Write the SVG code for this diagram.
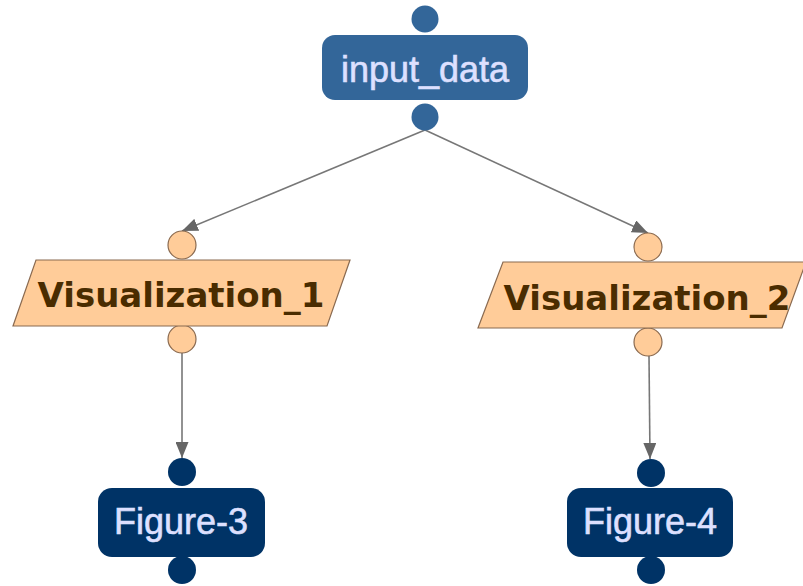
<svg xmlns="http://www.w3.org/2000/svg" width="803" height="586" viewBox="0 0 803 586">
  <defs>
    <marker id="arrow" viewBox="0 0 16 13" refX="16" refY="6.5" markerWidth="16" markerHeight="13" markerUnits="userSpaceOnUse" orient="auto">
      <path d="M0,0 L16,6.5 L0,13 Z" fill="#666666"/>
    </marker>
    <style>
      .edge { stroke: #777777; stroke-width: 1.6; fill: none; marker-end: url(#arrow); }
      .data { fill: #336699; }
      .fig { fill: #003366; }
      .proc { fill: #ffcc99; stroke: #8a6a50; stroke-width: 1.2; }
      .port { fill: #ffcc99; stroke: #8a6a50; stroke-width: 1.2; }
      .light { font-family: "Liberation Sans", Arial, sans-serif; font-size: 36px; fill: #dde0ff; stroke: #dde0ff; stroke-width: 0.6; text-anchor: middle; }
      .bold { font-family: "DejaVu Sans", Verdana, sans-serif; font-weight: bold; font-size: 34px; fill: #4a2c00; text-anchor: middle; }
    </style>
  </defs>

  <g id="connectors">
    <line class="edge" x1="425" y1="130" x2="182" y2="231"/>
    <line class="edge" x1="425" y1="130" x2="648" y2="233"/>
    <line class="edge" x1="182" y1="352" x2="182" y2="458"/>
    <line class="edge" x1="649" y1="356" x2="650" y2="459"/>
  </g>

  <g id="input_data">
    <circle class="data" cx="425" cy="19" r="13.5"/>
    <circle class="data" cx="425" cy="117" r="13.5"/>
    <rect class="data" x="322" y="35" width="206" height="65" rx="13"/>
    <text class="light" x="425" y="82">input_data</text>
  </g>

  <g id="Visualization_1">
    <circle class="port" cx="182" cy="245" r="14"/>
    <circle class="port" cx="182" cy="339" r="14"/>
    <polygon class="proc" points="36,260 350,260 327,326 13,326"/>
    <text class="bold" x="181" y="307">Visualization_1</text>
  </g>

  <g id="Visualization_2">
    <circle class="port" cx="648" cy="247" r="14"/>
    <circle class="port" cx="648" cy="342" r="14"/>
    <polygon class="proc" points="503,262 806,262 782,328 478,328"/>
    <text class="bold" x="647" y="310">Visualization_2</text>
  </g>

  <g id="Figure-3">
    <circle class="fig" cx="182" cy="472" r="14"/>
    <circle class="fig" cx="182" cy="570" r="14"/>
    <rect class="fig" x="98" y="488" width="167" height="69" rx="14"/>
    <text class="light" x="181" y="534">Figure-3</text>
  </g>

  <g id="Figure-4">
    <circle class="fig" cx="651" cy="473" r="14"/>
    <circle class="fig" cx="651" cy="570" r="14"/>
    <rect class="fig" x="567" y="488" width="166" height="69" rx="14"/>
    <text class="light" x="650" y="534">Figure-4</text>
  </g>
</svg>
